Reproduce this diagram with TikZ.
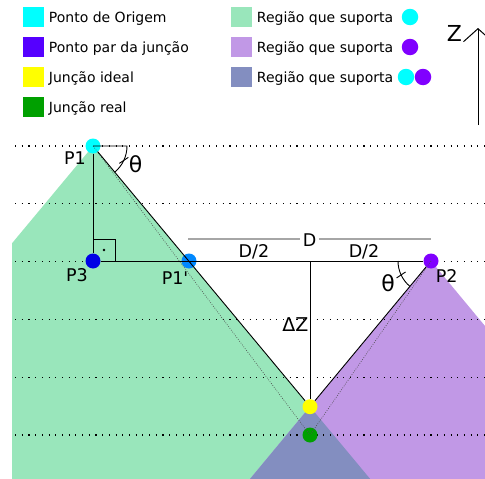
\documentclass[tikz,border=0pt]{standalone}
\usepackage{fontspec}
\setmainfont{DejaVu Sans}
\usetikzlibrary{arrows.meta,positioning}

\definecolor{ciano}{HTML}{00FFFF}
\definecolor{violeta}{HTML}{5500FF}
\definecolor{amarelo}{HTML}{FFFF00}
\definecolor{verde}{HTML}{00A000}
\definecolor{azul}{HTML}{0000E6}
\definecolor{azulclaro}{HTML}{0088FF}
\definecolor{roxo}{HTML}{8000FF}
\definecolor{regverde}{HTML}{99E6BB}
\definecolor{regroxo}{HTML}{C198E6}
\definecolor{regmisto}{HTML}{838EC0}

\tikzset{
  ponto/.style={circle, inner sep=0, minimum size=15, fill=#1},
  bola/.style={circle, inner sep=0, minimum size=16.5, fill=#1},
  caixa/.style={inner sep=0, minimum width=21, minimum height=20.5, fill=#1},
  legenda/.style={inner sep=0, text height=10.2pt, text depth=0pt, font=\fontsize{14}{17}\selectfont},
  rotulo/.style={inner sep=0, text height=12.8pt, text depth=0pt, font=\fontsize{17.5}{20}\selectfont},
  grade/.style={line width=1.1pt, dash pattern=on 1.1pt off 5.6pt},
  fino/.style={line width=0.6pt, gray!60!black, dash pattern=on 0.8pt off 1.5pt},
  linha/.style={line width=0.9pt},
  cota/.style={line width=1.4pt, black!35},
}

\begin{document}
\begin{tikzpicture}[x=1pt, y=-1pt]
  \useasboundingbox (0,0) rectangle (485,479);

  \fill[regverde] (93,146) -- (12,243.3) -- (12,479) -- (370.2,479) -- cycle;
  \fill[regroxo] (431,261) -- (250,479) -- (485,479) -- (485,326) -- cycle;
  \fill[regmisto] (310,406.7) -- (250,479) -- (370.2,479) -- cycle;

  \foreach \k in {0,...,5}
    \draw[grade] (15,{146+57.8*\k}) -- (485,{146+57.8*\k});

  \node[caixa=ciano] (c1) at (33,17) {};
  \node[caixa=violeta] (c2) at (33,47) {};
  \node[caixa=amarelo] (c3) at (33,77) {};
  \node[caixa=verde] (c4) at (33,107) {};
  \node[legenda, right=5pt of c1] (t1) {Ponto de Origem};
  \node[legenda, right=5pt of c2] (t2) {Ponto par da junção};
  \node[legenda, right=5pt of c3] (t3) {Junção ideal};
  \node[legenda, right=5pt of c4] (t4) {Junção real};

  \node[caixa=regverde] (c5) at (241,17) {};
  \node[caixa=regroxo] (c6) at (241,47) {};
  \node[caixa=regmisto] (c7) at (241,77) {};
  \node[legenda, right=5pt of c5] (t5) {Região que suporta};
  \node[legenda, right=5pt of c6] (t6) {Região que suporta};
  \node[legenda, right=5pt of c7] (t7) {Região que suporta};
  \node[bola=ciano] (b5) at (410,17) {};
  \node[bola=roxo] (b6) at (410,47) {};
  \node[bola=ciano] (b7) at (406,77) {};
  \node[bola=roxo] (b8) at (423,77) {};

  \coordinate (zbase) at (478,125);
  \coordinate (ztopo) at (478,28);
  \draw[line width=1pt, -{Straight Barb[length=13pt, width=29pt]}] (zbase) -- (ztopo);
  \node[inner sep=0, text height=16pt, text depth=0pt, font=\fontsize{22}{24}\selectfont] (z) at (454.5,33.5) {Z};

  \coordinate (meio) at (310,261);
  \coordinate (cotaE) at (188,239);
  \coordinate (cotaD) at (431,239);
  \draw[cota] (cotaE) -- (cotaD);
  \node[rotulo, fill=white, inner sep=3pt] (d) at (309.7,240.5) {D};
  \node[rotulo] (dmeio1) at (254,251.5) {D/2};
  \node[rotulo] (dmeio2) at (364,251.5) {D/2};

  \node[ponto=ciano] (p1) at (93,146) {};
  \node[ponto=azul] (p3) at (93,261) {};
  \node[ponto=azulclaro] (p1l) at (189,261) {};
  \node[ponto=roxo] (p2) at (431,261) {};
  \node[ponto=amarelo] (ideal) at (310,406.7) {};
  \node[ponto=verde] (real) at (310,435) {};

  \draw[fino] (p1.center) -- (real.center);
  \draw[fino] (p2.center) -- (real.center);

  \draw[linha] (p1) -- (p3);
  \draw[linha] (p3) -- (p2);
  \draw[linha] (p1) -- (ideal);
  \draw[linha] (p2) -- (ideal);
  \draw[linha] (meio) -- (ideal);

  \draw[linha] (p3.center) ++(0,-22) -| ++(22,22);
  \fill (104,250) circle (1.4);

  \draw[linha] (p1.center) -- ++(34,0) arc[start angle=0, end angle=50.2, radius=34];
  \draw[linha] (p1.center) ++(25:34) ++(-4.5,3) -- ++(9,-6);
  \draw[linha] (p2.center) ++(-33,0) arc[start angle=180, end angle=129.7, radius=33];
  \draw[linha] (p2.center) ++(155:33) ++(-4.5,3) -- ++(9,-6);

  \node[inner sep=0, text height=16.7pt, text depth=0pt, font=\fontsize{22}{24}\selectfont] (teta1) at (135.5,164) {θ};
  \node[inner sep=0, text height=16.7pt, text depth=0pt, font=\fontsize{22}{24}\selectfont] (teta2) at (388,283) {θ};

  \node[rotulo] (lp1) at (75,158.5) {P1};
  \node[rotulo] (lp3) at (77,275) {P3};
  \node[rotulo] (lp1l) at (175,278.5) {P1\textquotesingle};
  \node[rotulo] (lp2) at (446.7,276.5) {P2};
  \node[inner sep=0, text height=13.9pt, text depth=0pt, font=\fontsize{19}{22}\selectfont] (dz) at (295.5,324.5) {ΔZ};

\end{tikzpicture}
\end{document}
